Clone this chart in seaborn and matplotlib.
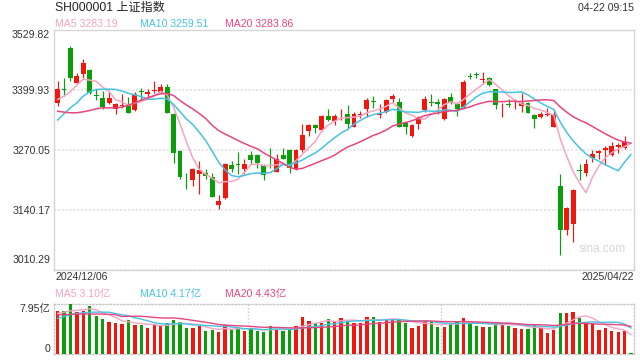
import numpy as np
import pandas as pd
import matplotlib
matplotlib.use("Agg")
import matplotlib.pyplot as plt
import matplotlib.transforms as mtransforms
import seaborn as sns

# ---------------- data ----------------
dec_days = ["06","09","10","11","12","13","16","17","18","19","20","23","24","25","26","27","30","31"]
jan_days = ["02","03","06","07","08","09","10","13","14","15","16","17","20","21","22","23","24","27"]
feb_days = ["05","06","07","10","11","12","13","14","17","18","19","20","21","24","25","26","27","28"]
mar_days = ["03","04","05","06","07","10","11","12","13","14","17","18","19","20","21","24","25","26","27","28","31"]
apr_days = ["01","02","03","07","08","09","10","11","14","15","16","17","18","21","22"]
dates = (["2024/12/" + d for d in dec_days] + ["2025/01/" + d for d in jan_days] +
         ["2025/02/" + d for d in feb_days] + ["2025/03/" + d for d in mar_days] +
         ["2025/04/" + d for d in apr_days])

opens = [3371.1, 3401.4, 3490.2, 3414.4, 3432.5, 3441.8, 3388.5, 3382.0, 3371.1, 3356.7,
         3363.2, 3366.1, 3354.5, 3395.7, 3389.2, 3395.7, 3394.9, 3405.0, 3347.3, 3266.5,
         3208.8, 3203.0, 3217.4, 3219.6, 3210.9, 3148.9, 3165.5, 3235.5, 3238.4, 3226.8,
         3257.1, 3257.1, 3235.5, 3236.9, 3221.8, 3257.1, 3269.4, 3226.8, 3268.7, 3309.1,
         3322.8, 3312.0, 3342.3, 3331.5, 3352.4, 3347.3, 3319.2, 3345.1, 3356.7, 3374.0,
         3345.1, 3350.9, 3378.3, 3373.3, 3327.8, 3299.0, 3324.2, 3354.5, 3371.9, 3373.3,
         3335.1, 3383.4, 3369.0, 3361.7, 3429.6, 3433.2, 3420.9, 3425.3, 3401.4, 3365.4,
         3368.2, 3371.9, 3363.9, 3371.1, 3343.7, 3340.1, 3344.4, 3319.2, 3190.7, 3094.8,
         3109.2, 3225.4, 3219.6, 3252.1, 3262.2, 3268.0, 3257.8, 3275.9, 3272.3, 3291.0]
highs = [3418.0, 3425.3, 3493.8, 3436.1, 3465.0, 3443.3, 3400.0, 3396.4, 3396.4, 3370.4,
         3389.2, 3384.1, 3394.2, 3403.6, 3400.0, 3418.0, 3410.8, 3412.3, 3349.5, 3268.0,
         3219.6, 3230.4, 3244.9, 3226.8, 3218.2, 3171.2, 3241.2, 3244.9, 3264.3, 3248.5,
         3266.5, 3259.3, 3237.6, 3273.7, 3259.3, 3273.7, 3270.1, 3270.1, 3324.2, 3325.7,
         3324.2, 3343.7, 3358.1, 3345.9, 3356.7, 3365.4, 3350.9, 3353.1, 3382.0, 3385.6,
         3369.0, 3379.8, 3389.2, 3382.0, 3329.3, 3325.7, 3342.3, 3385.6, 3390.6, 3378.3,
         3380.5, 3392.8, 3373.3, 3420.2, 3436.1, 3437.5, 3438.2, 3427.4, 3402.1, 3371.1,
         3378.3, 3379.8, 3392.8, 3372.6, 3347.3, 3350.2, 3360.3, 3358.1, 3217.4, 3146.0,
         3185.0, 3239.1, 3249.9, 3268.0, 3268.7, 3277.3, 3286.0, 3284.5, 3299.0, 3291.0]
lows = [3363.9, 3385.6, 3418.0, 3413.0, 3425.3, 3389.2, 3377.0, 3356.7, 3369.0, 3345.9,
        3360.3, 3348.0, 3353.1, 3376.2, 3382.0, 3392.8, 3392.8, 3348.8, 3241.2, 3205.2,
        3185.0, 3190.7, 3174.8, 3205.2, 3166.9, 3140.2, 3161.9, 3221.8, 3216.0, 3217.4,
        3237.6, 3230.4, 3203.0, 3230.4, 3220.3, 3248.5, 3219.6, 3224.6, 3264.3, 3299.0,
        3305.5, 3309.8, 3331.5, 3322.8, 3332.9, 3314.9, 3318.5, 3338.7, 3340.1, 3360.3,
        3337.2, 3349.5, 3373.3, 3318.5, 3304.0, 3297.5, 3313.4, 3351.7, 3363.9, 3347.3,
        3334.3, 3369.0, 3342.3, 3360.3, 3421.6, 3423.8, 3414.4, 3407.2, 3356.7, 3340.1,
        3361.7, 3356.7, 3351.7, 3348.8, 3317.0, 3338.7, 3342.3, 3318.5, 3040.6, 3084.7,
        3069.5, 3203.0, 3212.4, 3243.4, 3248.5, 3235.5, 3255.7, 3262.9, 3270.8, 3289.6]
closes = [3401.4, 3399.3, 3423.8, 3428.9, 3457.7, 3391.3, 3386.3, 3362.5, 3380.5, 3369.0,
          3366.8, 3349.5, 3389.2, 3394.2, 3394.9, 3397.8, 3405.0, 3349.5, 3262.9, 3210.9,
          3207.3, 3226.8, 3225.4, 3211.7, 3167.6, 3158.3, 3239.1, 3226.8, 3236.9, 3239.1,
          3246.3, 3241.2, 3213.8, 3234.0, 3249.9, 3249.9, 3229.0, 3268.0, 3301.1, 3322.1,
          3317.0, 3342.3, 3332.9, 3342.3, 3353.8, 3324.2, 3347.3, 3346.6, 3376.2, 3372.6,
          3346.6, 3376.2, 3385.6, 3319.2, 3318.5, 3322.1, 3340.1, 3379.8, 3369.7, 3367.5,
          3378.3, 3371.1, 3358.1, 3416.6, 3427.4, 3431.0, 3422.3, 3409.4, 3365.4, 3366.8,
          3366.8, 3373.3, 3371.1, 3349.5, 3335.1, 3347.3, 3346.6, 3344.4, 3094.8, 3143.8,
          3182.1, 3223.9, 3237.6, 3260.7, 3265.8, 3273.7, 3277.3, 3278.8, 3286.0, 3289.6]

ma5 = [3378.3, 3385.6, 3395.0, 3409.4, 3422.2, 3420.2, 3417.6, 3405.3, 3395.7, 3377.9,
       3373.0, 3365.7, 3371.0, 3373.7, 3378.9, 3385.1, 3396.2, 3388.3, 3362.0, 3325.2,
       3287.1, 3251.5, 3226.7, 3216.4, 3207.8, 3198.0, 3200.4, 3200.7, 3205.7, 3220.0,
       3237.6, 3238.1, 3235.5, 3234.9, 3237.0, 3237.8, 3235.3, 3246.2, 3259.6, 3274.0,
       3287.4, 3310.1, 3323.1, 3331.3, 3337.7, 3339.1, 3340.1, 3342.8, 3349.6, 3353.4,
       3357.9, 3363.6, 3371.4, 3360.0, 3349.2, 3344.3, 3337.1, 3335.9, 3346.0, 3355.8,
       3367.1, 3373.3, 3368.9, 3378.3, 3390.3, 3400.8, 3411.1, 3421.3, 3411.1, 3399.0,
       3386.1, 3376.3, 3368.7, 3365.5, 3359.2, 3355.3, 3349.9, 3344.6, 3293.6, 3255.4,
       3222.3, 3197.8, 3176.4, 3209.6, 3234.0, 3252.3, 3263.0, 3271.3, 3276.3, 3283.19]
ma10 = [3333.6, 3347.3, 3360.3, 3371.1, 3385.6, 3395.0, 3400.0, 3400.7, 3400.7, 3400.1,
        3396.6, 3391.7, 3388.2, 3384.7, 3378.4, 3379.1, 3381.0, 3379.7, 3367.9, 3352.1,
        3336.1, 3323.9, 3307.5, 3289.2, 3266.5, 3242.6, 3226.0, 3213.7, 3211.1, 3213.9,
        3217.8, 3219.3, 3218.1, 3220.3, 3228.5, 3237.7, 3236.7, 3240.9, 3247.3, 3255.5,
        3262.6, 3272.7, 3284.7, 3295.5, 3305.9, 3313.3, 3325.1, 3333.0, 3340.5, 3345.6,
        3348.5, 3351.9, 3357.1, 3354.8, 3351.3, 3351.1, 3350.4, 3353.7, 3353.0, 3352.5,
        3355.7, 3355.2, 3352.4, 3362.2, 3373.1, 3384.0, 3392.2, 3395.1, 3394.7, 3394.7,
        3393.5, 3393.7, 3395.0, 3388.3, 3379.1, 3370.7, 3363.1, 3356.7, 3329.6, 3307.3,
        3288.8, 3273.9, 3260.5, 3251.6, 3244.7, 3237.3, 3230.4, 3223.9, 3243.0, 3259.51]
ma20 = [3353.1, 3350.9, 3349.5, 3349.5, 3351.7, 3354.5, 3358.1, 3360.3, 3360.3, 3360.3,
        3361.7, 3366.1, 3371.1, 3376.9, 3382.0, 3387.0, 3390.6, 3391.3, 3387.0, 3376.1,
        3366.4, 3357.8, 3347.9, 3337.0, 3322.5, 3310.9, 3303.5, 3296.7, 3289.5, 3283.0,
        3277.0, 3271.6, 3262.8, 3254.8, 3247.5, 3240.2, 3231.4, 3227.3, 3229.2, 3234.7,
        3240.2, 3246.0, 3251.4, 3257.9, 3267.2, 3275.5, 3280.9, 3287.0, 3293.9, 3300.6,
        3305.6, 3312.3, 3320.9, 3325.2, 3328.6, 3332.2, 3337.8, 3343.4, 3346.8, 3349.1,
        3352.1, 3353.6, 3354.8, 3358.5, 3362.2, 3367.6, 3371.3, 3374.4, 3373.9, 3373.6,
        3374.6, 3374.5, 3373.7, 3375.3, 3376.1, 3377.4, 3377.7, 3375.9, 3362.2, 3351.0,
        3341.2, 3333.8, 3327.8, 3320.0, 3311.9, 3304.0, 3296.8, 3290.3, 3286.3, 3283.86]

volume = [6.89, 6.89, 7.95, 6.68, 6.89, 7.69, 6.10, 5.62, 5.09, 4.93,
          4.82, 5.46, 4.66, 4.66, 4.24, 4.66, 4.51, 5.04, 5.46, 5.19,
          4.24, 4.13, 4.56, 3.71, 3.87, 3.60, 4.66, 4.03, 4.24, 3.71,
          4.03, 3.71, 3.60, 4.51, 4.03, 3.71, 4.03, 4.51, 5.99, 5.30,
          4.93, 5.04, 5.62, 5.19, 5.83, 5.46, 5.04, 5.04, 5.99, 5.99,
          5.19, 5.46, 5.62, 5.57, 5.04, 4.24, 4.51, 5.30, 5.19, 4.40,
          4.40, 4.93, 5.19, 5.83, 5.04, 4.56, 4.40, 4.40, 5.19, 5.04,
          4.56, 4.24, 4.03, 4.03, 4.66, 4.13, 3.45, 3.87, 6.63, 6.63,
          6.78, 5.83, 4.77, 4.77, 3.87, 4.24, 3.71, 3.60, 3.71, 0.24]
vol_ma5 = [6.50, 6.70, 6.90, 7.00, 7.06, 7.22, 7.06, 6.60, 6.28, 5.89,
           5.31, 5.18, 4.99, 4.91, 4.77, 4.74, 4.55, 4.62, 4.78, 4.97,
           4.89, 4.81, 4.72, 4.37, 4.10, 3.97, 4.08, 3.97, 4.08, 4.05,
           4.13, 3.94, 3.86, 3.91, 3.98, 3.91, 3.98, 4.16, 4.45, 4.71,
           4.95, 5.15, 5.38, 5.22, 5.32, 5.43, 5.43, 5.31, 5.47, 5.50,
           5.45, 5.53, 5.65, 5.57, 5.38, 5.19, 5.00, 4.93, 4.86, 4.73,
           4.76, 4.84, 4.82, 4.95, 5.08, 5.11, 5.00, 4.85, 4.72, 4.72,
           4.72, 4.69, 4.61, 4.38, 4.30, 4.22, 4.06, 4.03, 4.55, 4.94,
           5.47, 5.95, 6.13, 5.76, 5.20, 4.70, 4.27, 4.04, 3.83, 3.10]
vol_ma10 = [5.70, 6.00, 6.30, 6.50, 6.60, 6.70, 6.70, 6.70, 6.70, 6.47,
            6.27, 6.12, 5.80, 5.60, 5.33, 5.03, 4.87, 4.81, 4.85, 4.87,
            4.82, 4.68, 4.67, 4.58, 4.54, 4.43, 4.45, 4.35, 4.23, 4.08,
            4.05, 4.01, 3.92, 4.00, 4.02, 4.02, 3.96, 4.01, 4.18, 4.35,
            4.43, 4.57, 4.77, 4.84, 5.02, 5.19, 5.29, 5.35, 5.35, 5.41,
            5.44, 5.48, 5.48, 5.52, 5.44, 5.32, 5.27, 5.29, 5.22, 5.06,
            4.98, 4.92, 4.88, 4.91, 4.91, 4.94, 4.92, 4.84, 4.84, 4.90,
            4.92, 4.85, 4.73, 4.55, 4.51, 4.47, 4.38, 4.32, 4.47, 4.62,
            4.85, 5.01, 5.08, 5.16, 5.07, 5.09, 5.11, 5.09, 4.80, 4.17]
vol_ma20 = [6.30, 6.30, 6.35, 6.40, 6.40, 6.40, 6.40, 6.40, 6.35, 6.30,
            5.99, 6.06, 6.05, 6.05, 5.97, 5.87, 5.79, 5.76, 5.78, 5.67,
            5.55, 5.40, 5.24, 5.09, 4.94, 4.73, 4.66, 4.58, 4.54, 4.48,
            4.44, 4.35, 4.30, 4.29, 4.28, 4.23, 4.21, 4.18, 4.21, 4.22,
            4.24, 4.29, 4.35, 4.42, 4.52, 4.61, 4.63, 4.68, 4.77, 4.88,
            4.94, 5.03, 5.13, 5.18, 5.23, 5.26, 5.28, 5.32, 5.29, 5.24,
            5.21, 5.20, 5.18, 5.22, 5.18, 5.13, 5.10, 5.07, 5.03, 4.98,
            4.95, 4.89, 4.81, 4.73, 4.71, 4.71, 4.65, 4.58, 4.66, 4.76,
            4.89, 4.93, 4.91, 4.86, 4.79, 4.78, 4.75, 4.71, 4.64, 4.43]

price_ticks = [3010.29, 3140.17, 3270.05, 3399.93, 3529.82]
price_tick_labels = ["3010.29", "3140.17", "3270.05", "3399.93", "3529.82"]
vol_ticks = [0, 7.95]
vol_tick_labels = ["0", "7.95亿"]
title_text = "SH000001 上证指数"
time_text = "04-22 09:15"
ma_price_labels = ["MA5 3283.19", "MA10 3259.51", "MA20 3283.86"]
ma_vol_labels = ["MA5 3.10亿", "MA10 4.17亿", "MA20 4.43亿"]

# ---------------- style ----------------
sns.set_theme(style="white")
plt.rcParams["font.family"] = ["Liberation Sans", "Noto Sans CJK SC", "DejaVu Sans"]

RED = "#f0180e"
GREEN = "#0a9e0a"
C_MA5 = "#f6a4c2"
C_MA10 = "#45c3e2"
C_MA20 = "#e8467f"
TXT = "#333333"
FS = 7.6

df = pd.DataFrame({"date": dates, "open": opens, "high": highs, "low": lows,
                   "close": closes, "ma5": ma5, "ma10": ma10, "ma20": ma20,
                   "vol": volume, "vma5": vol_ma5, "vma10": vol_ma10, "vma20": vol_ma20})
df["x"] = np.arange(len(df))
df["up"] = df["close"] >= df["open"]
df["col"] = np.where(df["up"], RED, GREEN)

W, H = 640, 360
fig = plt.figure(figsize=(6.4, 3.6), dpi=100)
fig.patch.set_facecolor("white")

def rect(l, t, r, b):
    return [l / W, 1 - b / H, (r - l) / W, (b - t) / H]

ax = fig.add_axes(rect(54.3, 29.5, 634.3, 269.5))
axv = fig.add_axes(rect(54.3, 304.3, 634.3, 354.3))

# ---------------- price panel ----------------
body_lo = np.minimum(df["open"], df["close"])
body_h = np.maximum(np.abs(df["close"] - df["open"]), 1.6)
ax.vlines(df["x"], df["low"], df["high"], colors=df["col"], linewidth=0.85, zorder=3)
ax.bar(df["x"], body_h, bottom=body_lo, width=0.76, color=df["col"], linewidth=0, zorder=4)

sns.lineplot(data=df, x="x", y="ma5", ax=ax, color=C_MA5, linewidth=1.1, legend=False, zorder=5)
sns.lineplot(data=df, x="x", y="ma10", ax=ax, color=C_MA10, linewidth=1.1, legend=False, zorder=5)
sns.lineplot(data=df, x="x", y="ma20", ax=ax, color=C_MA20, linewidth=1.1, legend=False, zorder=5)

ax.set_xlim(-0.5, len(df) - 0.5)
ax.set_ylim(price_ticks[0], price_ticks[-1])
ax.set_xticks([])
ax.set_yticks(price_ticks, price_tick_labels)
ax.tick_params(axis="y", length=0, pad=3, labelsize=FS, labelcolor=TXT)
lbls = ax.get_yticklabels()
lbls[0].set_va("bottom")
lbls[0].set_transform(lbls[0].get_transform() +
                      mtransforms.ScaledTranslation(0, 3.5 / 72, fig.dpi_scale_trans))
lbls[-1].set_va("top")
ax.yaxis.grid(True, linestyle=(0, (1, 1)), color="#e4e4e4", linewidth=1.4)
ax.set_xlabel("")
ax.set_ylabel("")
for s in ax.spines.values():
    s.set_color("#d6d6d6")
    s.set_linewidth(1.0)

ax.text(0.985, 0.085, "sina.com", transform=ax.transAxes, ha="right", va="center",
        fontsize=8.5, color="#d5d5d5", zorder=1)

# ---------------- volume panel ----------------
axv.bar(df["x"], df["vol"], width=0.52, color=df["col"], linewidth=0, zorder=3)
sns.lineplot(data=df, x="x", y="vma5", ax=axv, color=C_MA5, linewidth=1.0, legend=False, zorder=5)
sns.lineplot(data=df, x="x", y="vma10", ax=axv, color=C_MA10, linewidth=1.0, legend=False, zorder=5)
sns.lineplot(data=df, x="x", y="vma20", ax=axv, color=C_MA20, linewidth=1.0, legend=False, zorder=5)
axv.set_xlim(-0.5, len(df) - 0.5)
axv.set_ylim(vol_ticks[0], vol_ticks[-1])
axv.set_xticks([len(df) / 3 - 0.5, 2 * len(df) / 3 - 0.5])
axv.set_xticklabels([])
axv.tick_params(axis="x", length=0)
axv.xaxis.grid(True, linestyle=(0, (1, 1.5)), color="#c8c8c8", linewidth=1.0)
axv.set_yticks(vol_ticks, vol_tick_labels)
axv.tick_params(axis="y", length=0, pad=3, labelsize=FS, labelcolor=TXT)
vl = axv.get_yticklabels()
vl[0].set_va("bottom")
vl[-1].set_va("top")
axv.set_xlabel("")
axv.set_ylabel("")
for s in axv.spines.values():
    s.set_color("#c8c8c8")
    s.set_linewidth(1.0)
    s.set_linestyle((0, (1, 1.5)))

# ---------------- header texts ----------------
def fx(px):
    return px / W

def fy(py):
    return 1 - py / H

fig.text(fx(55), fy(7.5), title_text, fontsize=8.7, color="#222222", va="center", ha="left")
fig.text(fx(634.3), fy(8), time_text, fontsize=FS, color=TXT, va="center", ha="right")
for xp, lab, c in zip([55, 140, 225], ma_price_labels, [C_MA5, C_MA10, C_MA20]):
    fig.text(fx(xp), fy(24.3), lab, fontsize=FS, color=c, va="center", ha="left")
fig.text(fx(55), fy(277.3), dates[0], fontsize=FS, color=TXT, va="center", ha="left")
fig.text(fx(634.3), fy(277.3), dates[-1], fontsize=FS, color=TXT, va="center", ha="right")
for xp, lab, c in zip([55, 139.5, 225], ma_vol_labels, [C_MA5, C_MA10, C_MA20]):
    fig.text(fx(xp), fy(294.3), lab, fontsize=FS, color=c, va="center", ha="left")

fig.savefig("out.png", dpi=100, facecolor="white")
